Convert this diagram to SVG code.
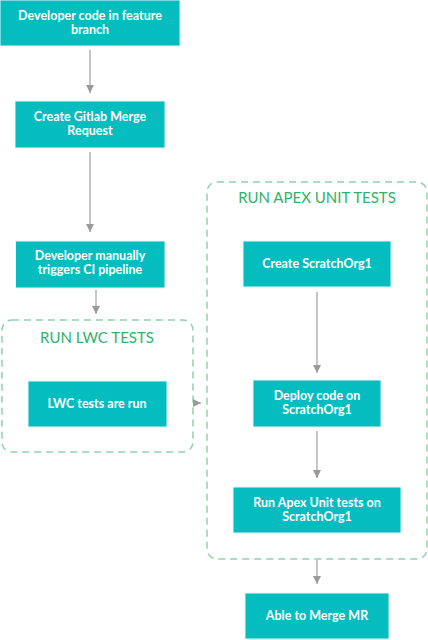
<svg xmlns="http://www.w3.org/2000/svg" width="428" height="640" viewBox="0 0 428 640">
<defs>
<marker id="ah" viewBox="0 0 10 10" refX="10" refY="5" markerWidth="8" markerHeight="8" markerUnits="userSpaceOnUse" orient="auto">
<path d="M0,0 L10,5 L0,10 Z" fill="#9a9a9a"/>
</marker>
<style>
.box{fill:#05bdbf;stroke:#e6f7f7;stroke-width:1}
.lbl{font-family:Lato,"Liberation Sans",sans-serif;font-weight:bold;font-size:12.5px;fill:#ffffff;text-anchor:middle}
.grp{fill:none;stroke:#8fd3aa;stroke-width:1.5;stroke-dasharray:7,5}
.ttl{font-family:Lato,"Liberation Sans",sans-serif;font-size:15px;fill:#2fb36a;text-anchor:middle}
.edge{stroke:#a0a0a0;stroke-width:1.2;fill:none;marker-end:url(#ah)}
</style>
</defs>
<rect width="428" height="640" fill="#ffffff"/>
<g id="lwc-group">
<rect class="grp" x="2" y="320" width="191" height="132" rx="10"/>
<text class="ttl" x="97" y="343">RUN LWC TESTS</text>
</g>
<g id="apex-group">
<rect class="grp" x="207" y="182" width="220" height="377" rx="10"/>
<text class="ttl" x="317" y="203">RUN APEX UNIT TESTS</text>
</g>
<g id="n1">
<rect class="box" x="0" y="0" width="180" height="46"/>
<text class="lbl" x="90" y="20">Developer code in feature</text>
<text class="lbl" x="90" y="34">branch</text>
</g>
<g id="n2">
<rect class="box" x="15" y="101" width="150" height="47"/>
<text class="lbl" x="90" y="121">Create Gitlab Merge</text>
<text class="lbl" x="90" y="135">Request</text>
</g>
<g id="n3">
<rect class="box" x="15.5" y="241" width="149.5" height="47"/>
<text class="lbl" x="90" y="260">Developer manually</text>
<text class="lbl" x="90" y="274">triggers CI pipeline</text>
</g>
<g id="n4">
<rect class="box" x="28" y="381" width="139" height="46"/>
<text class="lbl" x="97" y="408">LWC tests are run</text>
</g>
<g id="n5">
<rect class="box" x="243" y="241" width="148" height="46"/>
<text class="lbl" x="317" y="268">Create ScratchOrg1</text>
</g>
<g id="n6">
<rect class="box" x="253" y="380" width="128" height="47"/>
<text class="lbl" x="317" y="400">Deploy code on</text>
<text class="lbl" x="317" y="414">ScratchOrg1</text>
</g>
<g id="n7">
<rect class="box" x="233" y="487" width="168" height="46"/>
<text class="lbl" x="317" y="507">Run Apex Unit tests on</text>
<text class="lbl" x="317" y="521">ScratchOrg1</text>
</g>
<g id="n8">
<rect class="box" x="245" y="593" width="144" height="46"/>
<text class="lbl" x="317" y="620">Able to Merge MR</text>
</g>
<g id="edges">
<line class="edge" x1="90" y1="50" x2="90" y2="93"/>
<line class="edge" x1="90" y1="152" x2="90" y2="232"/>
<line class="edge" x1="96" y1="290" x2="96" y2="314"/>
<line class="edge" x1="193" y1="403" x2="201" y2="403"/>
<line class="edge" x1="317" y1="292" x2="317" y2="373"/>
<line class="edge" x1="317" y1="431" x2="317" y2="478"/>
<line class="edge" x1="317" y1="560" x2="317" y2="584"/>
</g>
</svg>
